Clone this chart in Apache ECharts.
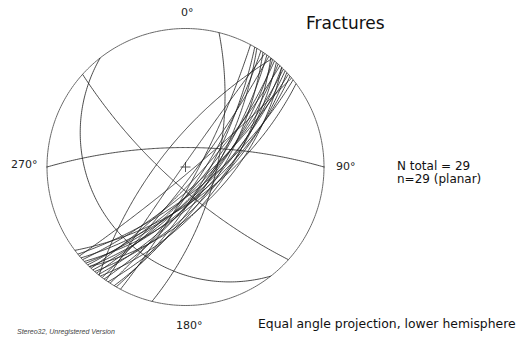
<!DOCTYPE html>
<html>
<head>
<meta charset="utf-8">
<script src="https://cdn.jsdelivr.net/npm/echarts@6/dist/echarts.min.js"></script>
<style>
html,body{margin:0;padding:0;background:#fff;}
#c{width:519px;height:344px;}
</style>
</head>
<body>
<div id="c"></div>
<script>
// Planes (right-hand-rule strike, dip) read from the stereonet
const outlierStrikes = [270, 142, 132, 14, 218.6];
const outlierDips    = [74, 22, 75, 65, 70];
const bundleStrikes = [28, 30, 31, 33, 34, 36, 37, 39, 40, 41, 42, 43, 44, 45, 46, 47, 48, 49, 50, 51, 53, 44, 38, 215];
const bundleDips    = [80, 72, 68, 76, 64, 70, 82, 68, 74, 62, 70, 78, 66, 72, 68, 63, 74, 66, 85, 70, 64, 58, 60, 88];
const directionLabels = ['0°', '90°', '180°', '270°'];
const titleText = 'Fractures';
const countLines = ['N total = 29', 'n=29 (planar)'];
const projText = 'Equal angle projection, lower hemisphere';
const watermark = 'Stereo32, Unregistered Version';

const D2R = Math.PI / 180;
function greatCircle(strike, dip) {
  const s = strike * D2R, dd = (strike + 90) * D2R, d = dip * D2R;
  const sv = [Math.cos(s), Math.sin(s), 0];
  const dv = [Math.cos(dd) * Math.cos(d), Math.sin(dd) * Math.cos(d), Math.sin(d)];
  const pts = [];
  for (let i = 0; i <= 180; i++) {
    const f = i * D2R;
    const n = Math.cos(f) * sv[0] + Math.sin(f) * dv[0];
    const e = Math.cos(f) * sv[1] + Math.sin(f) * dv[1];
    const dn = Math.max(0, Math.min(1, Math.cos(f) * sv[2] + Math.sin(f) * dv[2]));
    const p = Math.asin(dn);
    const t = Math.atan2(e, n);
    const r = Math.tan((Math.PI / 2 - p) / 2);
    pts.push([r * Math.sin(t), r * Math.cos(t)]);
  }
  return pts;
}

const series = [];
const prim = [];
for (let i = 0; i <= 360; i++) prim.push([Math.sin(i * D2R), Math.cos(i * D2R)]);
const base = {type: 'line', showSymbol: false, silent: true, animation: false, symbol: 'none'};
series.push(Object.assign({}, base, {data: prim, lineStyle: {color: '#6a6a6a', width: 1}}));
const tk = 1 + 9 / 138.5;
[[0, 1, 0, tk], [1, 0, tk, 0], [0, -1, 0, -tk], [-1, 0, -tk, 0]].forEach(a => {
  series.push(Object.assign({}, base, {data: [[a[0], a[1]], [a[2], a[3]]], lineStyle: {color: '#6a6a6a', width: 1}}));
});
const pc = 5 / 138.5;
series.push(Object.assign({}, base, {data: [[-pc, 0], [pc, 0]], lineStyle: {color: '#555', width: 1}}));
series.push(Object.assign({}, base, {data: [[0, -pc], [0, pc]], lineStyle: {color: '#555', width: 1}}));
const allS = outlierStrikes.concat(bundleStrikes), allD = outlierDips.concat(bundleDips);
allS.forEach((s, i) => {
  series.push(Object.assign({}, base, {data: greatCircle(s, allD[i]), lineStyle: {color: '#1e1e1e', width: 0.8}}));
});

const F = 'DejaVu Sans, Verdana, sans-serif';
const chart = echarts.init(document.getElementById('c'), null, {renderer: 'svg'});
chart.setOption({
  backgroundColor: '#fff',
  animation: false,
  grid: {left: 47, top: 28.5, width: 277, height: 277},
  xAxis: {type: 'value', min: -1, max: 1, show: false},
  yAxis: {type: 'value', min: -1, max: 1, show: false},
  series: series,
  graphic: [
    {type: 'text', left: 181, top: 7, style: {text: directionLabels[0], font: '11px ' + F, fill: '#222'}},
    {type: 'text', left: 336, top: 161, style: {text: directionLabels[1], font: '11px ' + F, fill: '#222'}},
    {type: 'text', left: 176, top: 320, style: {text: directionLabels[2], font: '11px ' + F, fill: '#222'}},
    {type: 'text', left: 11, top: 159, style: {text: directionLabels[3], font: '11px ' + F, fill: '#222'}},
    {type: 'text', left: 306, top: 14, style: {text: titleText, font: '17px ' + F, fill: '#111'}},
    {type: 'text', left: 397, top: 160, style: {text: countLines[0], font: '12px ' + F, fill: '#111'}},
    {type: 'text', left: 397, top: 173, style: {text: countLines[1], font: '12px ' + F, fill: '#111'}},
    {type: 'text', left: 258, top: 317, style: {text: projText, font: '12.4px ' + F, fill: '#111'}},
    {type: 'text', left: 17, top: 328, style: {text: watermark, font: 'italic 7px "Liberation Sans", Arial, sans-serif', fill: '#444'}}
  ]
});
</script>
</body>
</html>
